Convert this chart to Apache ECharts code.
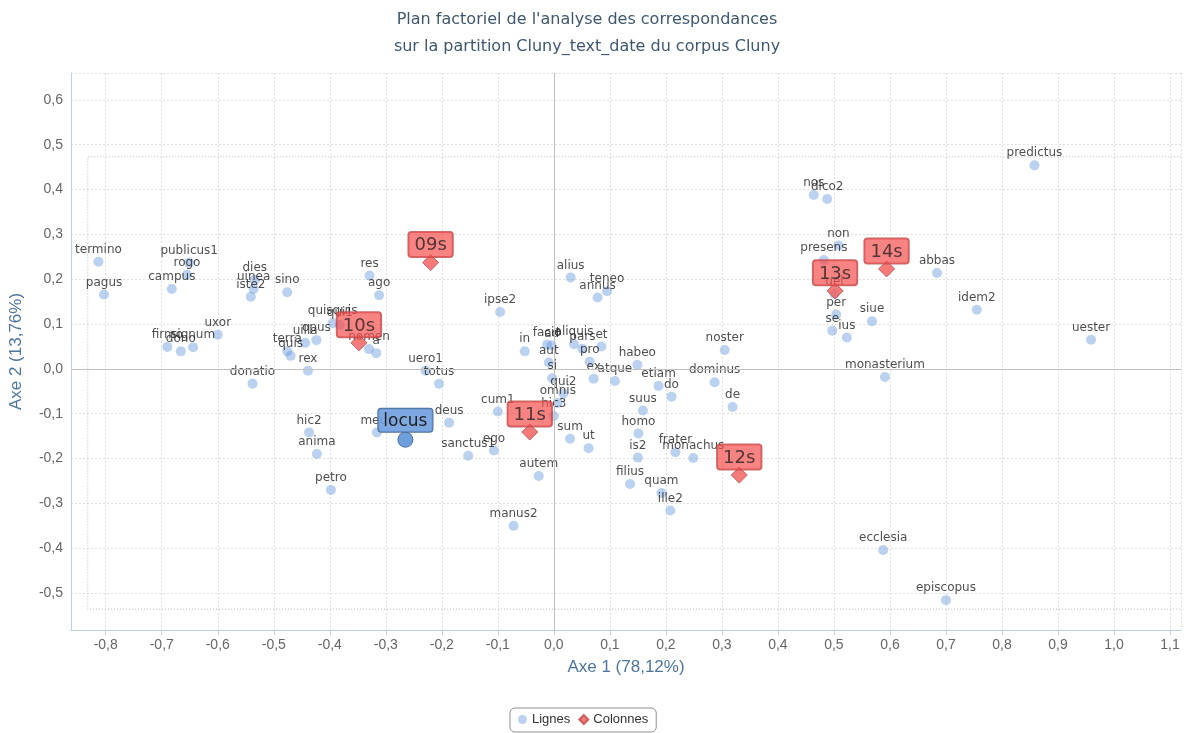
<!DOCTYPE html>
<html><head><meta charset="utf-8">
<script src="https://cdn.jsdelivr.net/npm/echarts@6/dist/echarts.min.js"></script>
<style>html,body{margin:0;padding:0;background:#fff}#chart{width:1191px;height:733px}</style>
</head><body><div id="chart"></div>
<script>
// ---- Data ----
const lignesLabels = ['termino','pagus','publicus1','rogo','campus','dies','uinea','iste2','sino','res','ago','uxor','firmo','dono','signum','terra','quis','rex','donatio','uilla','opus','quisquis','qui1','nomen','a','alius','teneo','annus','ipse2','in','facio','ad','aliquis','pars','et','aut','pro','si','ex','atque','habeo','etiam','do','uero1','totus','qui2','omnis','hic3','suus','dominus','noster','de','cum1','sum','ut','homo','is2','frater','monachus','filius','quam','ille2','autem','manus2','ego','sanctus1','deus','meus','hic2','anima','petro','predictus','nos','dico2','non','presens','abbas','uel','per','se','ius','siue','idem2','uester','monasterium','ecclesia','episcopus','locus'];
const lignesX = [-0.813,-0.803,-0.651,-0.655,-0.682,-0.534,-0.536,-0.541,-0.476,-0.329,-0.312,-0.600,-0.690,-0.666,-0.644,-0.476,-0.470,-0.439,-0.538,-0.444,-0.424,-0.395,-0.382,-0.330,-0.317,0.030,0.095,0.078,-0.096,-0.052,-0.012,-0.004,0.036,0.051,0.085,-0.009,0.064,-0.003,0.071,0.109,0.149,0.187,0.210,-0.229,-0.205,0.017,0.007,0.000,0.159,0.287,0.305,0.319,-0.100,0.029,0.062,0.151,0.150,0.217,0.249,0.136,0.192,0.208,-0.027,-0.072,-0.107,-0.153,-0.187,-0.316,-0.437,-0.423,-0.398,0.858,0.464,0.488,0.508,0.482,0.684,0.501,0.504,0.497,0.523,0.568,0.755,0.959,0.591,0.588,0.700,-0.265];
const lignesY = [0.239,0.166,0.237,0.210,0.178,0.199,0.178,0.161,0.171,0.208,0.164,0.076,0.049,0.039,0.048,0.039,0.029,-0.004,-0.033,0.058,0.064,0.102,0.098,0.044,0.035,0.204,0.173,0.159,0.127,0.039,0.054,0.052,0.055,0.045,0.050,0.014,0.016,-0.021,-0.022,-0.027,0.009,-0.038,-0.062,-0.004,-0.033,-0.055,-0.076,-0.105,-0.093,-0.030,0.042,-0.085,-0.095,-0.156,-0.177,-0.144,-0.198,-0.186,-0.199,-0.257,-0.277,-0.316,-0.239,-0.350,-0.182,-0.194,-0.120,-0.142,-0.142,-0.190,-0.270,0.454,0.388,0.379,0.275,0.243,0.214,0.167,0.121,0.085,0.070,0.106,0.132,0.065,-0.018,-0.404,-0.516,-0.158];
const colonnesLabels = ['09s','10s','11s','12s','13s','14s'];
const colonnesX = [-0.220,-0.348,-0.043,0.331,0.502,0.594];
const colonnesY = [0.237,0.058,-0.141,-0.237,0.174,0.223];
const highlightedLabel = 'locus';
// dotted frame around the map (left, top, bottom sides)
const frameX = [1.12, -0.832, -0.832, 1.12];
const frameY = [0.473, 0.473, -0.536, -0.536];

const titleLines = ["Plan factoriel de l'analyse des correspondances", "sur la partition Cluny_text_date du corpus Cluny"];
const xName = 'Axe 1 (78,12%)';
const yName = 'Axe 2 (13,76%)';

// ---- Chart ----
const fmt = v => (Math.abs(v) < 1e-9 ? 0 : v).toFixed(1).replace('.', ',');
const narrow = "'Liberation Sans Narrow', 'Liberation Sans', sans-serif";
const sans = "'DejaVu Sans', sans-serif";

const lignesData = lignesLabels.map((n, i) => {
  const d = { name: n, value: [lignesX[i], lignesY[i]] };
  if (n === highlightedLabel) {
    d.symbolSize = 15;
    d.itemStyle = { color: '#6e9fdc', borderColor: '#4a6f9c', borderWidth: 1, opacity: 1 };
    d.label = {
      fontSize: 17, color: '#222', distance: 0,
      backgroundColor: 'rgba(112,158,222,0.9)', borderColor: '#4d6f96', borderWidth: 1,
      borderRadius: 3, padding: [3, 5, 1, 5], lineHeight: 19
    };
  }
  return d;
});
const colonnesData = colonnesLabels.map((n, i) => ({ name: n, value: [colonnesX[i], colonnesY[i]] }));
const frameData = frameX.map((x, i) => [x, frameY[i]]);

const chart = echarts.init(document.getElementById('chart'), null, { renderer: 'canvas' });
chart.setOption({
  animation: false,
  backgroundColor: '#fff',
  graphic: titleLines.map((t, i) => ({
    type: 'text', x: 587, y: 20 + i * 27, silent: true,
    style: { text: t, fill: '#3e576f', font: "16px 'DejaVu Sans', sans-serif", textAlign: 'center', textVerticalAlign: 'middle' }
  })),
  grid: { left: 70, right: 10, top: 73, bottom: 103, containLabel: false },
  legend: {
    data: [{ name: 'Lignes', icon: 'circle' }, { name: 'Colonnes', icon: 'diamond' }],
    left: 510, top: 708,
    itemWidth: 9, itemHeight: 9, itemGap: 8,
    padding: [5, 8, 6, 8],
    borderColor: '#909090', borderWidth: 1, borderRadius: 5,
    textStyle: { fontFamily: narrow, fontSize: 13, color: '#333' }
  },
  xAxis: {
    type: 'value', min: -0.862, max: 1.1196, splitNumber: 20,
    name: xName, nameLocation: 'middle', nameGap: 29,
    nameTextStyle: { color: '#4d759e', fontSize: 17, fontFamily: narrow },
    axisLine: { show: true, onZero: false, lineStyle: { color: '#c0d0e0' } },
    axisTick: { show: true, length: 5, lineStyle: { color: '#c0d0e0' } },
    axisLabel: { formatter: fmt, color: '#666', fontSize: 14, fontFamily: narrow, margin: 8, showMinLabel: false, showMaxLabel: false },
    splitLine: { show: true, lineStyle: { color: '#e0e0e0', type: [2, 2] } }
  },
  yAxis: {
    type: 'value', min: -0.5826, max: 0.660, splitNumber: 12,
    name: yName, nameLocation: 'middle', nameGap: 46,
    nameTextStyle: { color: '#4d759e', fontSize: 17, fontFamily: narrow },
    axisLine: { show: true, onZero: false, lineStyle: { color: '#c0d0e0' } },
    axisTick: { show: false },
    axisLabel: { formatter: fmt, color: '#666', fontSize: 14, fontFamily: narrow, margin: 8, showMinLabel: false, showMaxLabel: false },
    splitLine: { show: true, lineStyle: { color: '#e0e0e0', type: [2, 2] } }
  },
  series: [
    {
      name: 'frame', type: 'line', data: frameData, showSymbol: false, silent: true,
      lineStyle: { color: '#b8b8b8', width: 1, type: [1, 2] }, z: 1
    },
    {
      name: 'Lignes', type: 'scatter', data: lignesData, symbol: 'circle', symbolSize: 10,
      itemStyle: { color: 'rgba(100,150,220,0.55)' },
      label: { show: true, position: 'top', distance: 1, formatter: '{b}', color: '#222', fontSize: 12, fontFamily: sans },
      markLine: {
        silent: true, symbol: ['none', 'none'], label: { show: false },
        lineStyle: { color: '#c0c0c0', type: 'solid', width: 1 },
        data: [{ xAxis: 0 }, { yAxis: 0 }]
      },
      z: 3
    },
    {
      name: 'Colonnes', type: 'scatter', data: colonnesData, symbol: 'diamond', symbolSize: 16,
      itemStyle: { color: '#f25a5a', borderColor: '#c04848', borderWidth: 1 },
      label: {
        show: true, position: 'top', distance: -3, formatter: '{b}', color: '#2a2222',
        fontSize: 18, fontFamily: sans, lineHeight: 21,
        backgroundColor: 'rgba(245,78,78,0.88)', borderColor: '#b84848', borderWidth: 1,
        borderRadius: 3, padding: [3, 6, 1, 6]
      },
      z: 5
    }
  ]
});
</script></body></html>
